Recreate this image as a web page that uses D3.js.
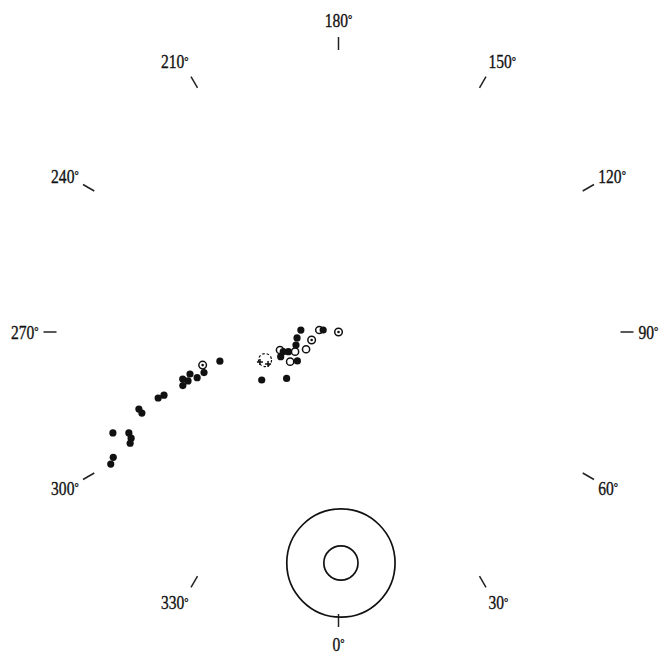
<!DOCTYPE html>
<html>
<head>
<meta charset="utf-8">
<script src="https://cdn.jsdelivr.net/npm/d3@7"></script>
<style>
  html, body { margin: 0; padding: 0; background: #fff; }
  svg { display: block; }
  text { font-family: "Liberation Serif", "DejaVu Serif", serif; fill: #111; }
</style>
</head>
<body>
<script>
// Azimuth tick labels around the net (degrees, 0° at the bottom, increasing anticlockwise)
const tickAngles = [0, 30, 60, 90, 120, 150, 180, 210, 240, 270, 300, 330];
const tickLabels = ["0°", "30°", "60°", "90°", "120°", "150°", "180°", "210°", "240°", "270°", "300°", "330°"];

// Directions: azimuth (deg) and polar distance from the centre (deg)
const filledAz = [267.0, 262.5, 278.2, 287.0, 289.6, 291.4, 293.1, 305.1, 302.0, 311.8, 283.8, 286.8, 287.9, 285.8, 288.0, 286.8, 289.0, 289.9, 290.1, 291.1, 292.4, 295.7, 297.1, 294.1, 298.1, 299.1, 300.1];
const filledDist = [11.7, 4.8, 13.0, 13.8, 18.2, 16.7, 19.5, 15.6, 28.1, 21.6, 37.9, 43.6, 46.1, 47.9, 49.1, 50.5, 51.1, 57.6, 59.6, 66.4, 66.0, 72.2, 72.3, 76.7, 73.3, 80.0, 81.7];

const openAz = [264.0, 298.0, 287.1, 294.4, 301.5];
const openDist = [6.0, 11.4, 19.0, 14.8, 17.6];

const dottedAz = [0, 286.6, 283.7];
const dottedDist = [0, 8.7, 43.4];

const dashedAz = [290.9];
const dashedDist = [24.4];
const crossAz = [290.9, 294.4];
const crossDist = [26.1, 24.0];

// Reference direction with its two confidence circles (deg)
const refAz = 0.6;
const refDist = 71.7;
const refRadii = [16.8, 5.3];

const W = 661, H = 654;
const cx = 338.5, cy = 332;

const svg = d3.select("body").append("svg")
  .attr("width", W).attr("height", H);

const r = d3.scaleLinear().domain([0, 90]).range([0, 290]);
const rad = d => d * Math.PI / 180;
const px = (az, dist) => cx + r(dist) * Math.sin(rad(az));
const py = (az, dist) => cy + r(dist) * Math.cos(rad(az));
const pxR = (az, pr) => cx + pr * Math.sin(rad(az));
const pyR = (az, pr) => cy + pr * Math.cos(rad(az));

// Perimeter ticks and labels
const ticks = svg.append("g");
tickAngles.forEach((a, i) => {
  ticks.append("line")
    .attr("x1", pxR(a, 282)).attr("y1", pyR(a, 282))
    .attr("x2", pxR(a, 295)).attr("y2", pyR(a, 295))
    .attr("stroke", "#222").attr("stroke-width", 1.5);
  const s = Math.sin(rad(a));
  const anchor = s > 0.01 ? "start" : (s < -0.01 ? "end" : "middle");
  const label = tickLabels[i];
  const t = ticks.append("text")
    .attr("transform", `translate(${pxR(a, 300)},${pyR(a, 312)}) scale(0.82,1)`)
    .attr("text-anchor", anchor)
    .attr("dominant-baseline", "central")
    .attr("font-size", 19)
    .attr("stroke", "#111").attr("stroke-width", 0.35);
  t.append("tspan").text(label.replace("°", ""));
  t.append("tspan").attr("font-size", 13).attr("dy", -1).text("°");
});

// Reference circles
const ref = svg.append("g");
refRadii.forEach(rr => {
  ref.append("circle")
    .attr("cx", px(refAz, refDist)).attr("cy", py(refAz, refDist))
    .attr("r", r(rr))
    .attr("fill", "none").attr("stroke", "#111").attr("stroke-width", 1.7);
});

const pts = svg.append("g");

// Dashed open circle with crosses
pts.selectAll("circle.dashed").data(d3.range(dashedAz.length)).join("circle")
  .attr("class", "dashed")
  .attr("cx", i => px(dashedAz[i], dashedDist[i]))
  .attr("cy", i => py(dashedAz[i], dashedDist[i]))
  .attr("r", 6.5)
  .attr("fill", "none").attr("stroke", "#111").attr("stroke-width", 1.2)
  .attr("stroke-dasharray", "2.5,2");
pts.selectAll("path.cross").data(d3.range(crossAz.length)).join("path")
  .attr("class", "cross")
  .attr("transform", i => `translate(${px(crossAz[i], crossDist[i])},${py(crossAz[i], crossDist[i])})`)
  .attr("d", "M-3,0H3M0,-3V3")
  .attr("stroke", "#111").attr("stroke-width", 1.5);

// Open circles
pts.selectAll("circle.open").data(d3.range(openAz.length)).join("circle")
  .attr("class", "open")
  .attr("cx", i => px(openAz[i], openDist[i]))
  .attr("cy", i => py(openAz[i], openDist[i]))
  .attr("r", 3.6)
  .attr("fill", "#fff").attr("stroke", "#111").attr("stroke-width", 1.5);

// Open circles with a central dot
const dotted = pts.selectAll("g.dotted").data(d3.range(dottedAz.length)).join("g")
  .attr("class", "dotted")
  .attr("transform", i => `translate(${px(dottedAz[i], dottedDist[i])},${py(dottedAz[i], dottedDist[i])})`);
dotted.append("circle").attr("r", 3.8)
  .attr("fill", "#fff").attr("stroke", "#111").attr("stroke-width", 1.5);
dotted.append("circle").attr("r", 1.3).attr("fill", "#111");

// Filled circles
pts.selectAll("circle.filled").data(d3.range(filledAz.length)).join("circle")
  .attr("class", "filled")
  .attr("cx", i => px(filledAz[i], filledDist[i]))
  .attr("cy", i => py(filledAz[i], filledDist[i]))
  .attr("r", 3.6)
  .attr("fill", "#111");
</script>
</body>
</html>
